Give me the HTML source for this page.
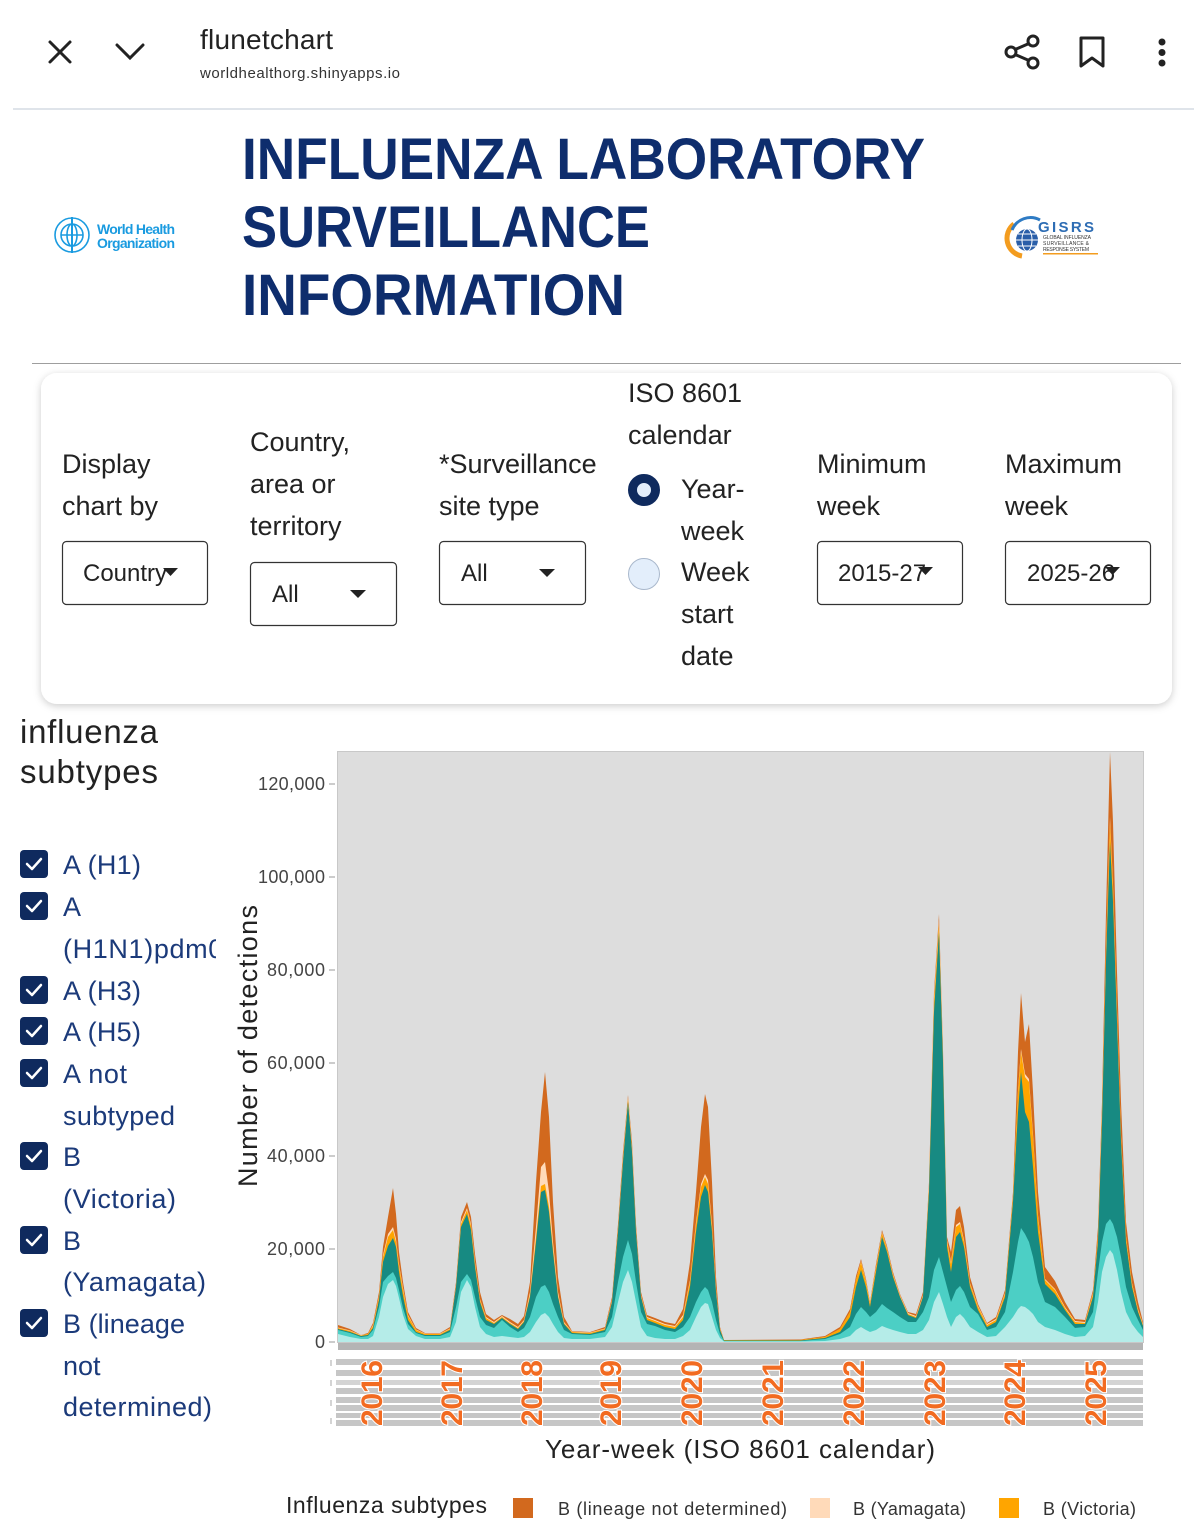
<!DOCTYPE html>
<html><head><meta charset="utf-8"><style>
html,body{margin:0;padding:0;background:#fff;}
svg{display:block;font-family:"Liberation Sans",Arial,sans-serif;}
</style></head><body>
<svg width="1194" height="1540" viewBox="0 0 1194 1540" xmlns="http://www.w3.org/2000/svg">
<defs>
<filter id="sh" x="-5%" y="-10%" width="110%" height="125%"><feDropShadow dx="0" dy="2" stdDeviation="4" flood-color="#000" flood-opacity="0.2"/></filter>
<clipPath id="clipL"><rect x="0" y="900" width="216" height="80"/></clipPath>
</defs>
<rect width="1194" height="1540" fill="#fff"/>

<!-- Browser header -->
<g stroke="#222" stroke-width="3" fill="none" stroke-linecap="round">
<line x1="50" y1="42" x2="70" y2="62"/><line x1="70" y1="42" x2="50" y2="62"/>
<polyline points="117,45 130,58 143,45"/>
</g>
<text x="200" y="49" font-size="28" fill="#222" textLength="133">flunetchart</text>
<text x="200" y="78" font-size="15" fill="#333" textLength="200">worldhealthorg.shinyapps.io</text>
<g stroke="#222" stroke-width="3" fill="none">
<circle cx="1033" cy="41" r="5"/><circle cx="1011" cy="52" r="5"/><circle cx="1033" cy="63" r="5"/>
<line x1="1015" y1="49.5" x2="1029" y2="43.5"/><line x1="1015" y1="54.5" x2="1029" y2="60.5"/>
<path d="M1081,38 L1103,38 L1103,66 L1092,58 L1081,66 Z" stroke-linejoin="round"/>
</g>
<g fill="#222"><circle cx="1162" cy="42" r="3.5"/><circle cx="1162" cy="52.5" r="3.5"/><circle cx="1162" cy="63" r="3.5"/></g>
<rect x="13" y="108" width="1181" height="2" fill="#dfe4ea"/>

<!-- WHO logo -->
<g stroke="#1a9be0" fill="none" stroke-width="1.6">
<circle cx="72" cy="235" r="17"/>
<circle cx="72" cy="235" r="11"/>
<ellipse cx="72" cy="235" rx="5" ry="11"/>
<line x1="61" y1="235" x2="83" y2="235"/>
<line x1="72" y1="217" x2="72" y2="253" stroke-width="2"/>
</g>
<text x="97" y="234" font-size="14" font-weight="bold" fill="#1a9be0" textLength="78">World Health</text>
<text x="97" y="248" font-size="14" font-weight="bold" fill="#1a9be0" textLength="78">Organization</text>

<!-- Title -->
<g font-weight="bold" fill="#0e2d6d" font-size="58">
<text x="242" y="179" textLength="683" lengthAdjust="spacingAndGlyphs">INFLUENZA LABORATORY</text>
<text x="242" y="247" textLength="408" lengthAdjust="spacingAndGlyphs">SURVEILLANCE</text>
<text x="242" y="315" textLength="383" lengthAdjust="spacingAndGlyphs">INFORMATION</text>
</g>

<!-- GISRS logo -->
<path d="M1022,256 A18,18 0 0 1 1014,224" stroke="#f39c1f" stroke-width="5" fill="none"/>
<path d="M1012,230 A20,20 0 0 1 1040,220" stroke="#2e7bc4" stroke-width="3" fill="none"/>
<circle cx="1027" cy="240" r="11" fill="#2a5ea8"/>
<g stroke="#fff" stroke-width="1" fill="none"><ellipse cx="1027" cy="240" rx="5" ry="11"/><line x1="1016" y1="240" x2="1038" y2="240"/><line x1="1018" y1="234" x2="1036" y2="234"/><line x1="1018" y1="246" x2="1036" y2="246"/></g>
<text x="1038" y="232" font-size="15" font-weight="bold" fill="#2e6db4" textLength="56">GISRS</text>
<g font-size="5" fill="#333"><text x="1043" y="239" textLength="48">GLOBAL INFLUENZA</text><text x="1043" y="245" textLength="46">SURVEILLANCE &amp;</text><text x="1043" y="251" textLength="46">RESPONSE SYSTEM</text></g>
<rect x="1043" y="253" width="55" height="1.5" fill="#f39c1f"/>

<rect x="32" y="363" width="1149" height="1" fill="#9e9e9e"/>

<!-- Panel -->
<rect x="41" y="373" width="1131" height="331" rx="16" fill="#fff" filter="url(#sh)"/>
<g font-size="27" fill="#222">
<text x="62" y="473">Display</text><text x="62" y="515">chart by</text>
<text x="250" y="451">Country,</text><text x="250" y="493">area or</text><text x="250" y="535">territory</text>
<text x="439" y="473">*Surveillance</text><text x="439" y="515">site type</text>
<text x="628" y="402">ISO 8601</text><text x="628" y="444">calendar</text>
<text x="681" y="498">Year-</text><text x="681" y="540">week</text>
<text x="681" y="581">Week</text><text x="681" y="623">start</text><text x="681" y="665">date</text>
<text x="817" y="473">Minimum</text><text x="817" y="515">week</text>
<text x="1005" y="473">Maximum</text><text x="1005" y="515">week</text>
</g>
<g fill="#fff" stroke="#333" stroke-width="1.2">
<rect x="62.5" y="541.5" width="145" height="63" rx="4"/>
<rect x="250.5" y="562.5" width="146" height="63" rx="4"/>
<rect x="439.5" y="541.5" width="146" height="63" rx="4"/>
<rect x="817.5" y="541.5" width="145" height="63" rx="4"/>
<rect x="1005.5" y="541.5" width="145" height="63" rx="4"/>
</g>
<g font-size="24" fill="#222">
<text x="83" y="581">Country</text>
<text x="272" y="602">All</text>
<text x="461" y="581">All</text>
<text x="838" y="581">2015-27</text>
<text x="1027" y="581">2025-26</text>
</g>
<g fill="#222">
<polygon points="163,568 178,568 170.5,576"/>
<polygon points="350,590 366,590 358,598"/>
<polygon points="539,569 555,569 547,577"/>
<polygon points="918,567 933,567 925.5,575"/>
<polygon points="1105,567 1120,567 1112.5,575"/>
</g>
<circle cx="644" cy="490" r="11.5" fill="#e3eefb" stroke="#0f2a5e" stroke-width="9"/>
<circle cx="644" cy="574" r="15.5" fill="#e3eefb" stroke="#a9b8cc" stroke-width="1"/>

<!-- Sidebar -->
<text x="20" y="743" font-size="33" fill="#222" textLength="138">influenza</text>
<text x="20" y="783" font-size="33" fill="#222" textLength="138">subtypes</text>
<g fill="#0f2a5e">
<rect x="20" y="850" width="28" height="28" rx="4"/>
<rect x="20" y="892" width="28" height="28" rx="4"/>
<rect x="20" y="976" width="28" height="28" rx="4"/>
<rect x="20" y="1017" width="28" height="28" rx="4"/>
<rect x="20" y="1059" width="28" height="28" rx="4"/>
<rect x="20" y="1142" width="28" height="28" rx="4"/>
<rect x="20" y="1226" width="28" height="28" rx="4"/>
<rect x="20" y="1309" width="28" height="28" rx="4"/>
</g>
<g stroke="#fff" stroke-width="2.5" fill="none" stroke-linecap="round" stroke-linejoin="round">
<polyline points="27,864 32,869 41,859"/>
<polyline points="27,906 32,911 41,901"/>
<polyline points="27,990 32,995 41,985"/>
<polyline points="27,1031 32,1036 41,1026"/>
<polyline points="27,1073 32,1078 41,1068"/>
<polyline points="27,1156 32,1161 41,1151"/>
<polyline points="27,1240 32,1245 41,1235"/>
<polyline points="27,1323 32,1328 41,1318"/>
</g>
<g font-size="27" fill="#1b3a7a">
<text x="63" y="874" textLength="78">A (H1)</text>
<text x="63" y="916">A</text>
<text x="63" y="958" clip-path="url(#clipL)" textLength="176">(H1N1)pdm09</text>
<text x="63" y="1000" textLength="78">A (H3)</text>
<text x="63" y="1041" textLength="78">A (H5)</text>
<text x="63" y="1083" textLength="64">A not</text>
<text x="63" y="1125" textLength="112">subtyped</text>
<text x="63" y="1166">B</text>
<text x="63" y="1208" textLength="113">(Victoria)</text>
<text x="63" y="1250">B</text>
<text x="63" y="1291" textLength="143">(Yamagata)</text>
<text x="63" y="1333" textLength="122">B (lineage</text>
<text x="63" y="1375">not</text>
<text x="63" y="1416" textLength="149">determined)</text>
</g>

<!-- Chart -->
<rect x="337.5" y="751.5" width="806" height="591" fill="#dddddd" stroke="#c8c8c8" stroke-width="1"/>
<g transform="translate(0,1342) scale(1,-1)">
<polygon fill="#d2691e" points="338,0 338,17 350,13 361,7 368,9 373,19 379,50 383,95 388,125 393,154 396,128 399,90 403,60 408,30 416,14 425,9 440,9 450,15 456,60 461,125 467,140 471,125 475,88 480,50 486,28 494,22 502,27 510,23 518,18 524,26 530,60 536,160 541,230 545,270 549,225 553,140 558,65 564,25 572,11 590,10 605,15 612,45 618,118 623,190 628,247 632,200 636,118 641,50 647,27 655,24 665,20 675,18 683,33 690,80 696,150 701,215 705,248 708,235 712,160 716,65 720,15 724,2 800,2.5 825,6 840,15 850,33 856,66 861,83 866,63 870,40 876,78 882,112 887,96 893,70 900,48 908,30 916,28 923,50 929,160 934,350 939,428 943,292 947,105 951,90 956,132 960,136 964,115 970,65 978,38 987,19 996,25 1005,52 1013,150 1018,290 1021,349 1025,300 1029,318 1033,250 1038,150 1045,75 1055,61 1065,40 1075,23 1085,22 1093,52 1098,115 1102,240 1106,430 1110,590 1113,520 1117,370 1121,240 1126,120 1132,70 1138,40 1143,20 1143,0"/>
<polygon fill="#ffdab9" points="338,0 338,14.5 350,11.5 361,7 368,8 373,17 379,46 383,87 388,108 393,115 396,103 399,78 403,54 408,27 416,12.5 425,8.5 440,8.5 450,13.5 456,57 461,120 467,134 471,118 475,80 480,43 486,25 494,20 502,26 510,20 518,15 524,22 530,50 536,115 541,175 545,180 549,150 553,100 558,50 564,20 572,10.5 590,9.5 605,13.5 612,42 618,113 623,185 628,245 632,195 636,113 641,47 647,25 655,22 665,18 675,16 683,27 690,62 696,120 701,158 705,168 708,162 712,118 716,54 720,13.5 724,2 800,2 825,5 840,13 850,30 856,62 861,81 866,61 870,39 876,75 882,110 887,94 893,68 900,47 908,29 916,26 923,47 929,157 934,345 939,422 943,288 947,102 951,80 956,117 960,120 964,102 970,59 978,36 987,18 996,23 1005,49 1013,146 1018,252 1021,293 1025,268 1029,263 1033,208 1038,127 1045,63 1055,53 1065,35 1075,21 1085,20 1093,49 1098,106 1102,230 1106,393 1110,525 1113,458 1117,333 1121,207 1126,106 1132,59 1138,33 1143,18 1143,0"/>
<polygon fill="#ffa500" points="338,0 338,14 350,11 361,6.5 368,8 373,16 379,45 383,85 388,105 393,112 396,100 399,76 403,52 408,26 416,12 425,8 440,8 450,13 456,56 461,118 467,132 471,116 475,78 480,42 486,24 494,19 502,25 510,19 518,14 524,21 530,47 536,105 541,156 545,158 549,135 553,94 558,47 564,19 572,10 590,9 605,13 612,41 618,112 623,183 628,243 632,193 636,112 641,46 647,24 655,21 665,17 675,15 683,25 690,60 696,117 701,155 705,165 708,158 712,115 716,52 720,13 724,2 800,2 825,5 840,13 850,30 856,62 861,80 866,60 870,38 876,74 882,109 887,93 893,67 900,46 908,28 916,25 923,46 929,155 934,340 939,418 943,285 947,100 951,78 956,115 960,118 964,100 970,58 978,35 987,17 996,22 1005,48 1013,145 1018,250 1021,290 1025,265 1029,260 1033,205 1038,125 1045,62 1055,52 1065,34 1075,20 1085,19 1093,48 1098,105 1102,228 1106,390 1110,520 1113,455 1117,330 1121,205 1126,105 1132,58 1138,32 1143,17 1143,0"/>
<polygon fill="#178a82" points="338,0 338,13 350,10 361,6 368,7 373,14 379,42 383,80 388,96 393,104 396,95 399,70 403,46 408,22 416,10 425,7 440,7 450,12 456,55 461,115 467,128 471,112 475,75 480,40 486,22 494,18 502,24 510,18 518,13 524,20 530,45 536,100 541,150 545,152 549,130 553,90 558,45 564,18 572,9 590,8 605,12 612,40 618,110 623,180 628,240 632,190 636,110 641,45 647,22 655,19 665,15 675,13 683,22 690,55 696,110 701,145 705,157 708,150 712,110 716,50 720,12 724,1.5 800,1.5 825,4 840,10 850,25 856,55 861,72 866,55 870,35 876,70 882,105 887,90 893,65 900,45 908,27 916,24 923,45 929,150 934,330 939,410 943,280 947,95 951,70 956,105 960,110 964,95 970,55 978,32 987,15 996,20 1005,45 1013,140 1018,230 1021,270 1025,230 1029,220 1033,175 1038,110 1045,58 1055,48 1065,32 1075,18 1085,18 1093,45 1098,100 1102,220 1106,380 1110,500 1113,440 1117,320 1121,200 1126,100 1132,55 1138,30 1143,16 1143,0"/>
<polygon fill="#4ccfc5" points="338,0 338,12 350,9 361,5 368,6 373,12 379,35 383,60 388,66 393,70 396,64 399,52 403,34 408,18 416,9 425,6 440,6 450,10 456,35 461,60 467,68 471,62 475,45 480,25 486,17 494,14 502,22 510,15 518,10 524,14 530,25 536,45 541,55 545,57 549,50 553,38 558,25 564,12 572,8 590,7 605,10 612,25 618,60 623,85 628,102 632,88 636,60 641,30 647,18 655,16 665,12 675,10 683,15 690,25 696,40 701,50 705,55 708,52 712,40 716,22 720,8 724,1 800,1 825,3 840,8 850,15 856,28 861,35 866,30 870,25 876,30 882,38 887,34 893,30 900,25 908,20 916,20 923,30 929,45 934,72 939,85 943,70 947,55 951,40 956,52 960,56 964,50 970,35 978,28 987,12 996,15 1005,30 1013,70 1018,100 1021,114 1025,108 1029,100 1033,85 1038,60 1045,40 1055,35 1065,25 1075,14 1085,15 1093,30 1098,70 1102,100 1106,118 1110,123 1113,118 1117,105 1121,85 1126,55 1132,35 1138,22 1143,12 1143,0"/>
<polygon fill="#b5ece8" points="338,0 338,8 350,5 361,3 368,3 373,6 379,25 383,45 388,58 393,62 396,56 399,44 403,27 408,13 416,6 425,3 440,3 450,5 456,20 461,50 467,62 471,55 475,35 480,15 486,8 494,5 502,6 510,5 518,4 524,5 530,10 536,20 541,27 545,29 549,25 553,18 558,10 564,4 572,3 590,3 605,5 612,15 618,40 623,60 628,72 632,60 636,40 641,15 647,6 655,4 665,3 675,3 683,6 690,12 696,25 701,35 705,39 708,38 712,25 716,12 720,4 724,0.5 800,0.5 825,1 840,3 850,6 856,12 861,15 866,12 870,10 876,12 882,16 887,14 893,12 900,10 908,8 916,8 923,12 929,22 934,40 939,50 943,38 947,25 951,15 956,25 960,28 964,24 970,15 978,10 987,5 996,6 1005,15 1013,25 1018,33 1021,36 1025,35 1029,32 1033,28 1038,20 1045,15 1055,12 1065,8 1075,5 1085,6 1093,15 1098,40 1102,70 1106,85 1110,92 1113,88 1117,72 1121,50 1126,30 1132,18 1138,10 1143,5 1143,0"/>
</g>
<rect x="338" y="1343" width="805" height="7" fill="#b4b4b4"/>

<!-- y axis -->
<g stroke="#999" stroke-width="1">
<line x1="329" y1="1342" x2="335" y2="1342"/>
<line x1="329" y1="1249" x2="335" y2="1249"/>
<line x1="329" y1="1156" x2="335" y2="1156"/>
<line x1="329" y1="1063" x2="335" y2="1063"/>
<line x1="329" y1="970" x2="335" y2="970"/>
<line x1="329" y1="877" x2="335" y2="877"/>
<line x1="329" y1="784" x2="335" y2="784"/>
</g>
<g font-size="18" fill="#444" text-anchor="end">
<text x="325" y="1348">0</text>
<text x="325" y="1255" textLength="58">20,000</text>
<text x="325" y="1162" textLength="58">40,000</text>
<text x="325" y="1069" textLength="58">60,000</text>
<text x="325" y="976" textLength="58">80,000</text>
<text x="325" y="883" textLength="67">100,000</text>
<text x="325" y="790" textLength="67">120,000</text>
</g>
<text transform="translate(257,1187) rotate(-90)" font-size="27" fill="#222" textLength="282">Number of detections</text>

<!-- x tick label clutter -->
<g fill="#c6c6c6">
<rect x="336" y="1359" width="807" height="6"/>
<rect x="336" y="1370" width="807" height="6"/>
<rect x="336" y="1380" width="807" height="5" fill="#d4d4d4"/>
<rect x="336" y="1388" width="807" height="6"/>
<rect x="336" y="1397" width="807" height="6"/>
<rect x="336" y="1405" width="807" height="6"/>
<rect x="336" y="1413" width="807" height="5"/>
<rect x="336" y="1420" width="807" height="6"/>
</g>
<g stroke="#aaa" stroke-width="1">
<line x1="331" y1="1360" x2="331" y2="1366"/><line x1="331" y1="1380" x2="331" y2="1386"/><line x1="331" y1="1400" x2="331" y2="1406"/><line x1="331" y1="1418" x2="331" y2="1424"/>
</g>
<g font-size="30" font-weight="bold" fill="#f26b21" stroke="#fff" stroke-width="2" paint-order="stroke">
<text transform="translate(382,1426) rotate(-90)" textLength="66">2016</text>
<text transform="translate(462,1426) rotate(-90)" textLength="66">2017</text>
<text transform="translate(542,1426) rotate(-90)" textLength="66">2018</text>
<text transform="translate(621,1426) rotate(-90)" textLength="66">2019</text>
<text transform="translate(702,1426) rotate(-90)" textLength="66">2020</text>
<text transform="translate(783,1426) rotate(-90)" textLength="66">2021</text>
<text transform="translate(864,1426) rotate(-90)" textLength="66">2022</text>
<text transform="translate(945,1426) rotate(-90)" textLength="66">2023</text>
<text transform="translate(1025,1426) rotate(-90)" textLength="66">2024</text>
<text transform="translate(1106,1426) rotate(-90)" textLength="66">2025</text>
</g>
<text x="545" y="1458" font-size="26" fill="#222" textLength="390">Year-week (ISO 8601 calendar)</text>

<!-- Legend -->
<text x="286" y="1513" font-size="23" fill="#222" textLength="201">Influenza subtypes</text>
<rect x="513" y="1498" width="20" height="20" fill="#d2691e"/>
<text x="558" y="1515" font-size="18" fill="#333" textLength="229">B (lineage not determined)</text>
<rect x="810" y="1498" width="20" height="20" fill="#ffdab9"/>
<text x="853" y="1515" font-size="18" fill="#333" textLength="113">B (Yamagata)</text>
<rect x="999" y="1498" width="20" height="20" fill="#ffa500"/>
<text x="1043" y="1515" font-size="18" fill="#333" textLength="93">B (Victoria)</text>
</svg>
</body></html>
